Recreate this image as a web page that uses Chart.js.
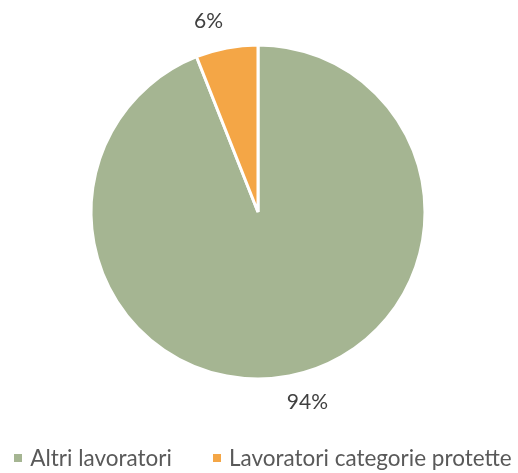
<!DOCTYPE html>
<html>
<head>
<meta charset="utf-8">
<script src="https://cdn.jsdelivr.net/npm/chart.js@4"></script>
<style>
  html, body { margin: 0; padding: 0; background: #fff; }
  #wrap { position: relative; width: 518px; height: 473px; }
  #legend {
    position: absolute; left: 0; right: 0; top: 445px;
    display: flex; justify-content: center; gap: 41px;
    padding-left: 8px;
    margin: 0; list-style: none;
    font: 22.5px Lato, sans-serif; line-height: 26px; color: #595959;
  }
  #legend li { display: flex; align-items: center; white-space: nowrap; }
  #legend .box { width: 8px; height: 8px; margin-right: 8px; }
</style>
</head>
<body>
<div id="wrap">
  <canvas id="chart-pie"></canvas>
  <ul id="legend"></ul>
</div>
<script>
// Share of workers: protected categories vs. everyone else.

const categories = ["Altri lavoratori", "Lavoratori categorie protette"];
const shares = [94, 6];
const sliceColors = ["#A5B592", "#F4A646"];

// Percent labels just outside each slice. Excel nudges them a little
// counter-clockwise from the slice middle, so we do the same.
const outsideLabels = {
  id: "outsideLabels",
  afterDatasetsDraw(chart) {
    const ctx = chart.ctx;
    const meta = chart.getDatasetMeta(0);
    const total = shares.reduce((a, b) => a + b, 0);
    ctx.save();
    ctx.font = "21px Lato";
    ctx.fillStyle = "#404040";
    ctx.textAlign = "center";
    ctx.textBaseline = "middle";
    meta.data.forEach((arc, i) => {
      const p = arc.getProps(["x", "y", "startAngle", "endAngle", "outerRadius"], true);
      const mid = (p.startAngle + p.endAngle) / 2 - 0.065;
      const r = p.outerRadius + 30;
      const pct = Math.round(shares[i] / total * 100) + "%";
      ctx.fillText(pct, p.x + Math.cos(mid) * r, p.y + Math.sin(mid) * r);
    });
    ctx.restore();
  },
};

// HTML legend built from Chart.js's own legend items; the canvas legend
// can't get the wide gap between the two entries without wrapping.
const htmlLegend = {
  id: "htmlLegend",
  afterUpdate(chart) {
    const ul = document.getElementById("legend");
    ul.innerHTML = "";
    const items = chart.options.plugins.legend.labels.generateLabels(chart);
    items.forEach((item) => {
      const li = document.createElement("li");
      const box = document.createElement("span");
      box.className = "box";
      box.style.background = item.fillStyle;
      li.appendChild(box);
      li.appendChild(document.createTextNode(item.text));
      ul.appendChild(li);
    });
  },
};

new Chart(document.getElementById("chart-pie"), {
  type: "pie",
  data: {
    labels: categories,
    datasets: [{
      data: shares,
      backgroundColor: sliceColors,
      borderColor: "#ffffff",
      borderWidth: 3,
      radius: 167,
    }],
  },
  options: {
    responsive: true,
    maintainAspectRatio: false,
    animation: false,
    layout: { padding: { top: 0, left: 0, right: 2, bottom: 49 } },
    plugins: {
      legend: { display: false },
      tooltip: { enabled: false },
    },
  },
  plugins: [outsideLabels, htmlLegend],
});
</script>
</body>
</html>
